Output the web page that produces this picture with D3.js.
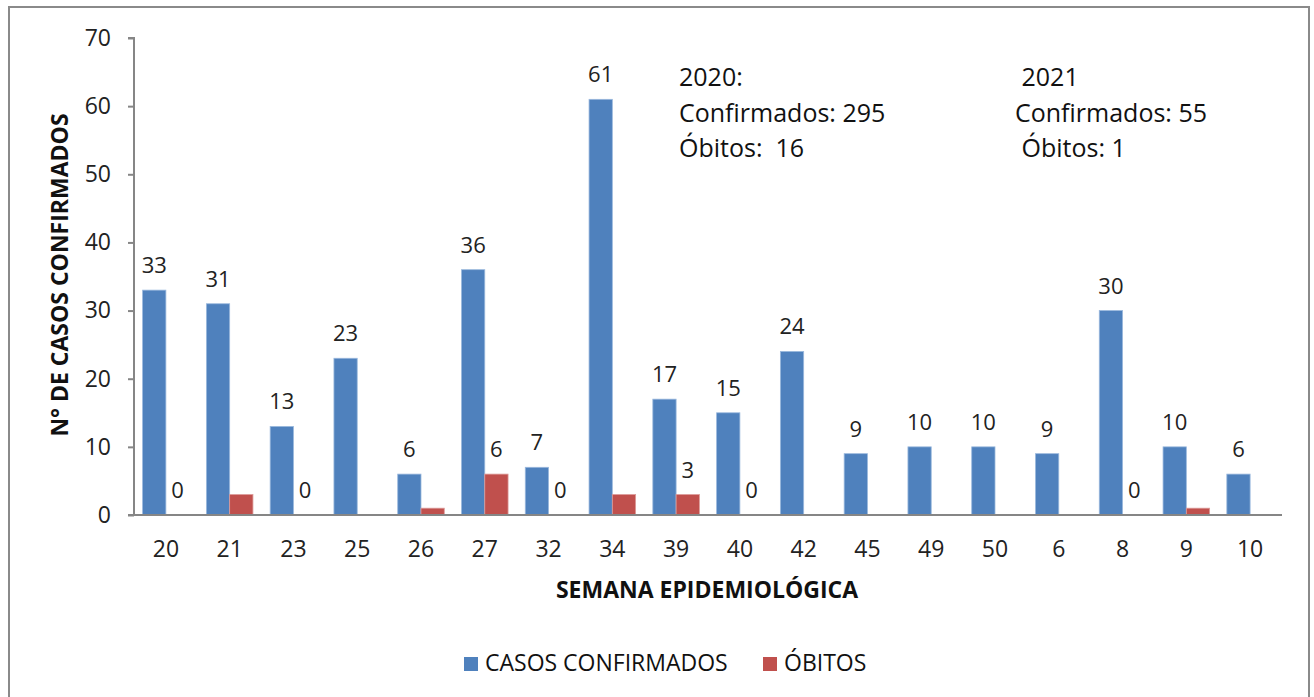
<!DOCTYPE html>
<html>
<head>
<meta charset="utf-8">
<script src="https://cdn.jsdelivr.net/npm/d3@7"></script>
<style>
  html, body { margin: 0; padding: 0; background: #fff; }
  svg { display: block; font-family: "Open Sans", "Noto Sans", sans-serif; }
</style>
</head>
<body>
<svg id="chart" width="1314" height="697"></svg>
<script>
// ---- data ----
const semanas = ["20","21","23","25","26","27","32","34","39","40","42","45","49","50","6","8","9","10"];
const casosConfirmados = [33,31,13,23,6,36,7,61,17,15,24,9,10,10,9,30,10,6];
const obitos = [0,3,0,null,1,6,0,3,3,0,null,null,null,null,null,0,1,null];
const obitosLabels = ["0","","0","","","6","0","","3","0","","","","","","0","",""];
const yTicks = [0,10,20,30,40,50,60,70];
const seriesNames = ["CASOS CONFIRMADOS","ÓBITOS"];
const seriesColors = ["#4F81BD","#C0504D"];
const notes2020 = ["2020:","Confirmados: 295","Óbitos:  16"];
const notes2021 = [" 2021","Confirmados: 55"," Óbitos: 1"];
const xTitle = "SEMANA EPIDEMIOLÓGICA";
const yTitle = "N° DE CASOS CONFIRMADOS";

// ---- layout ----
const svg = d3.select("#chart");
const plot = {left: 134, right: 1282, top: 38, bottom: 515};

svg.append("rect").attr("x", 9).attr("y", 7).attr("width", 1300).attr("height", 700)
  .attr("fill", "#fff").attr("stroke", "#8a8a8a").attr("stroke-width", 2);

const x = d3.scaleBand().domain(semanas).range([plot.left, plot.right]).paddingInner(0).paddingOuter(0);
const y = d3.scaleLinear().domain([0, 70]).range([plot.bottom, plot.top]);
const barW = x.bandwidth() * 0.365;

// y axis
const yAxis = d3.axisLeft(y).tickValues(yTicks).tickSize(6).tickPadding(17);
const gy = svg.append("g").attr("transform", `translate(${plot.left},0)`).call(yAxis);
gy.select(".domain").attr("stroke", "#868686").attr("stroke-width", 2).attr("d", `M-6,${plot.top}H0V${plot.bottom}`);
gy.selectAll(".tick line").attr("stroke", "#868686").attr("stroke-width", 2);
gy.selectAll(".tick text").attr("font-size", 23).attr("fill", "#222").attr("font-family", "Open Sans");

// bars
const casosData = casosConfirmados.map((v, i) => ({sem: semanas[i], v}));
const obitosData = obitos.map((v, i) => ({sem: semanas[i], v, label: obitosLabels[i]}));

const gBars = svg.append("g");
gBars.selectAll("rect.casos").data(casosData).join("rect")
  .attr("class", "casos")
  .attr("x", d => x(d.sem) + x.bandwidth() / 2 - barW)
  .attr("y", d => y(d.v))
  .attr("width", barW)
  .attr("height", d => y(0) - y(d.v))
  .attr("fill", seriesColors[0])
  .attr("stroke", "#9ab8dd").attr("stroke-width", 0.8);

gBars.selectAll("rect.obitos").data(obitosData.filter(d => d.v !== null && d.v > 0)).join("rect")
  .attr("class", "obitos")
  .attr("x", d => x(d.sem) + x.bandwidth() / 2)
  .attr("y", d => y(d.v))
  .attr("width", barW)
  .attr("height", d => y(0) - y(d.v))
  .attr("fill", seriesColors[1])
  .attr("stroke", "#dc9a98").attr("stroke-width", 0.8);

// x axis
const xAxis = d3.axisBottom(x).tickSize(0).tickPadding(26);
const gx = svg.append("g").attr("transform", `translate(0,${plot.bottom})`).call(xAxis);
gx.select(".domain").attr("stroke", "#868686").attr("stroke-width", 2).attr("d", `M${plot.left - 6},0H${plot.right}`);
gx.selectAll(".tick text").attr("font-size", 23).attr("fill", "#222").attr("font-family", "Open Sans");

// value labels
svg.append("g").selectAll("text").data(casosData).join("text")
  .attr("x", d => x(d.sem) + x.bandwidth() / 2 - barW / 2)
  .attr("y", d => y(d.v) - 17)
  .attr("text-anchor", "middle").attr("font-size", 22).attr("fill", "#222")
  .text(d => d.v);

svg.append("g").selectAll("text").data(obitosData.filter(d => d.label !== "")).join("text")
  .attr("x", d => x(d.sem) + x.bandwidth() / 2 + barW / 2)
  .attr("y", d => y(d.v || 0) - 17)
  .attr("text-anchor", "middle").attr("font-size", 22).attr("fill", "#222")
  .text(d => d.label);

// annotations
svg.append("g").selectAll("text").data(notes2020).join("text")
  .attr("x", 679).attr("y", (d, i) => 86 + i * 35.5)
  .attr("font-size", 25).attr("fill", "#111")
  .style("white-space", "pre").text(d => d);
svg.append("g").selectAll("text").data(notes2021).join("text")
  .attr("x", 1015).attr("y", (d, i) => 86 + i * 35.5)
  .attr("font-size", 25).attr("fill", "#111")
  .style("white-space", "pre").text(d => d);

// axis titles
svg.append("text").attr("x", 707).attr("y", 598)
  .attr("text-anchor", "middle").attr("font-size", 23).attr("font-weight", "bold").attr("fill", "#111")
  .text(xTitle);
svg.append("text").attr("transform", `translate(68,275) rotate(-90)`)
  .attr("text-anchor", "middle").attr("font-size", 23).attr("font-weight", "bold").attr("fill", "#111")
  .text(yTitle);

// legend
const legendX = [464, 763];
const lg = svg.append("g").selectAll("g").data(seriesNames).join("g")
  .attr("transform", (d, i) => `translate(${legendX[i]},657)`);
lg.append("rect").attr("width", 14).attr("height", 14).attr("fill", (d, i) => seriesColors[i]);
lg.append("text").attr("x", 21).attr("y", 14).attr("font-size", 23).attr("fill", "#111").text(d => d);
</script>
</body>
</html>
